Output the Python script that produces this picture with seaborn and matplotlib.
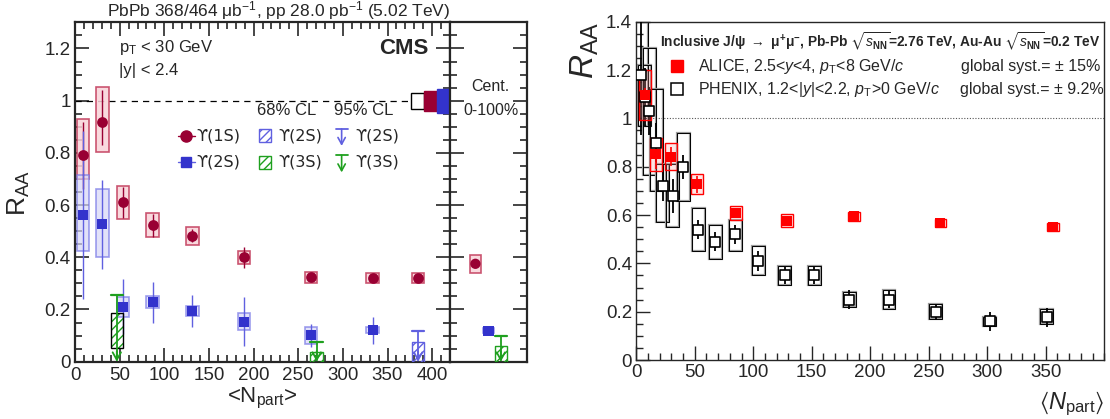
import numpy as np
import pandas as pd
import matplotlib
matplotlib.use("Agg")
import matplotlib.pyplot as plt
from matplotlib.patches import Rectangle
from matplotlib.ticker import MultipleLocator, FuncFormatter
import seaborn as sns

# ---------------- CMS Upsilon data (left panel) ----------------
npart_1s = [8.75, 30.6, 53.9, 86.9, 131.4, 189.2, 264.2, 333.3, 384.3]
raa_1s = [0.79, 0.92, 0.61, 0.524, 0.483, 0.40, 0.323, 0.32, 0.319]
stat_lo_1s = [0.13, 0.09, 0.06, 0.045, 0.025, 0.04, 0.012, 0.012, 0.012]
stat_hi_1s = [0.13, 0.12, 0.06, 0.04, 0.025, 0.04, 0.012, 0.012, 0.012]
syst_lo_1s = [0.70, 0.805, 0.545, 0.476, 0.447, 0.373, 0.302, 0.30, 0.30]
syst_hi_1s = [0.93, 1.051, 0.673, 0.568, 0.516, 0.425, 0.343, 0.34, 0.34]

npart_2s = [8.75, 30.6, 53.9, 86.9, 131.4, 189.2, 264.2, 333.3]
raa_2s = [0.562, 0.527, 0.21, 0.23, 0.194, 0.153, 0.101, 0.12]
stat_lo_2s = [0.32, 0.17, 0.105, 0.08, 0.06, 0.092, 0.045, 0.053]
stat_hi_2s = [0.32, 0.17, 0.105, 0.076, 0.06, 0.094, 0.042, 0.052]
syst_lo_2s = [0.425, 0.40, 0.173, 0.205, 0.175, 0.122, 0.068, 0.108]
syst_hi_2s = [0.715, 0.66, 0.249, 0.252, 0.213, 0.185, 0.133, 0.132]

# upper limits
ul_2s_npart = [384.3]
ul_2s_lo68 = [0.0]
ul_2s_hi68 = [0.076]
ul_2s_95 = [0.118]

ul_3s_npart = [46.8, 270.7]
ul_3s_lo68 = [0.051, 0.0]
ul_3s_hi68 = [0.187, 0.038]
ul_3s_95 = [0.257, 0.076]

# centrality-integrated (0-100%)
cent_raa_1s = 0.375
cent_syst_1s = [0.34, 0.41]
cent_raa_2s = 0.118
cent_syst_2s = [0.108, 0.128]
cent_3s_hi68 = 0.061
cent_3s_95 = 0.099

# global uncertainties at RAA = 1 (pp lumi, 1S, 2S)
glob_unc = [0.03, 0.038, 0.046]

# ---------------- ALICE / PHENIX J/psi data (right panel) ----------------
alice_npart = [356, 260, 186, 128.6, 85, 52.2, 29.7, 16.9, 7.5]
alice_raa = [0.55, 0.568, 0.594, 0.576, 0.609, 0.727, 0.841, 0.851, 1.096]
alice_stat = [0.01, 0.01, 0.01, 0.015, 0.02, 0.035, 0.04, 0.06, 0.03]
alice_syst = [0.017, 0.017, 0.017, 0.027, 0.03, 0.041, 0.055, 0.067, 0.104]

phenix_npart = [4.4, 7.3, 11.2, 17.0, 22.6, 31.0, 40.3, 53.1, 67.6, 84.7,
                104.4, 127.0, 152.0, 182.0, 216.0, 256.0, 302.0, 351.0]
phenix_raa = [1.18, 1.09, 1.03, 0.90, 0.72, 0.68, 0.80, 0.54, 0.49, 0.52,
              0.41, 0.35, 0.35, 0.25, 0.25, 0.20, 0.16, 0.177]
phenix_stat = [0.25, 0.12, 0.10, 0.08, 0.06, 0.07, 0.05, 0.04, 0.04, 0.04,
               0.04, 0.035, 0.035, 0.04, 0.035, 0.03, 0.04, 0.04]
phenix_syst_lo = [0.97, 0.97, 0.765, 0.70, 0.57, 0.55, 0.66, 0.45, 0.42, 0.45,
                  0.35, 0.31, 0.31, 0.22, 0.21, 0.17, 0.14, 0.15]
phenix_syst_hi = [1.45, 1.22, 1.29, 1.12, 0.81, 0.81, 0.94, 0.63, 0.56, 0.58,
                  0.47, 0.39, 0.39, 0.28, 0.29, 0.23, 0.18, 0.21]

# ---------------- style ----------------
sns.set_theme(style="ticks")
plt.rcParams["font.family"] = ["Liberation Sans", "DejaVu Sans"]
plt.rcParams["mathtext.fontset"] = "custom"
plt.rcParams["mathtext.rm"] = "Liberation Sans"
plt.rcParams["mathtext.it"] = "Liberation Sans:italic"
plt.rcParams["mathtext.bf"] = "Liberation Sans:bold"
plt.rcParams["mathtext.fallback"] = "stixsans"
plt.rcParams["hatch.linewidth"] = 1.0

C1S = "#990033"
C1S_BOX_E = "#c23a5a"
C1S_BOX_F = "#f9d3d9"
C2S = "#3333cc"
C2S_ERR = "#6060e0"
C2S_BOX_E = "#7575e6"
C2S_BOX_F = "#d6d6f7"
C3S = "#1fa01f"
CRED = "#ff0000"
UPS = ["DejaVu Sans"]

fmt = FuncFormatter(lambda v, p: "%g" % round(v, 3))

fig = plt.figure(figsize=(11.1, 4.19), dpi=100)
axL = fig.add_axes([0.0676, 0.1368, 0.3378, 0.8098])
axC = fig.add_axes([0.4054, 0.1368, 0.0694, 0.8098])
axR = fig.add_axes([0.5732, 0.1408, 0.4216, 0.8074])

# ================= LEFT PANEL =================
axL.set_xlim(0, 420)
axL.set_ylim(0, 1.3)
HW = 7.0

axL.axhline(1.0, color="black", lw=0.9, ls=(0, (5, 4)), zorder=1)

for x, lo, hi in zip(npart_1s, syst_lo_1s, syst_hi_1s):
    axL.add_patch(Rectangle((x - HW, lo), 2 * HW, hi - lo, facecolor=C1S_BOX_F,
                            edgecolor=C1S_BOX_E, lw=1.2, alpha=0.85, zorder=2))
for x, lo, hi in zip(npart_2s, syst_lo_2s, syst_hi_2s):
    axL.add_patch(Rectangle((x - HW, lo), 2 * HW, hi - lo, facecolor=C2S_BOX_F,
                            edgecolor=C2S_BOX_E, lw=1.2, alpha=0.7, zorder=2))

axL.vlines(npart_1s, np.array(raa_1s) - np.array(stat_lo_1s),
           np.array(raa_1s) + np.array(stat_hi_1s), color=C1S, lw=1.0, zorder=3)
axL.vlines(npart_2s, np.array(raa_2s) - np.array(stat_lo_2s),
           np.array(raa_2s) + np.array(stat_hi_2s), color=C2S_ERR, lw=1.0, zorder=3)


def upper_limit(ax, x, lo68, hi68, y95, color, edge, hw):
    ax.add_patch(Rectangle((x - hw, lo68), 2 * hw, hi68 - lo68, facecolor="none",
                           edgecolor=color, hatch="////", lw=0, zorder=3))
    ax.add_patch(Rectangle((x - hw, lo68), 2 * hw, hi68 - lo68, facecolor="none",
                           edgecolor=edge, lw=1.0, zorder=3))
    ax.plot([x, x], [y95, 0.005], color=color, lw=1.3, zorder=4)
    ax.plot([x - hw, x + hw], [y95, y95], color=color, lw=1.6, zorder=4)
    ax.annotate("", xy=(x, 0.0), xytext=(x, 0.04),
                arrowprops=dict(arrowstyle="->,head_length=0.45,head_width=0.25",
                                color=color, lw=1.3, shrinkA=0, shrinkB=0), zorder=4)


for x, lo, hi, y95 in zip(ul_2s_npart, ul_2s_lo68, ul_2s_hi68, ul_2s_95):
    upper_limit(axL, x, lo, hi, y95, C2S_ERR, C2S_ERR, HW)
edges3 = ["black", C3S]
for x, lo, hi, y95, e in zip(ul_3s_npart, ul_3s_lo68, ul_3s_hi68, ul_3s_95, edges3):
    upper_limit(axL, x, lo, hi, y95, C3S, e, HW)

df1 = pd.DataFrame({"npart": npart_1s, "raa": raa_1s})
df2 = pd.DataFrame({"npart": npart_2s, "raa": raa_2s})
sns.scatterplot(data=df1, x="npart", y="raa", ax=axL, marker="o", s=60,
                color=C1S, edgecolor=C1S, linewidth=0, zorder=6, legend=False)
sns.scatterplot(data=df2, x="npart", y="raa", ax=axL, marker="s", s=50,
                color=C2S, edgecolor=C2S, linewidth=0, zorder=6, legend=False)

glob_left = [376, 390.5, 405.5]
glob_w = 14.5
glob_face = ["white", C1S, C2S]
glob_edge = ["black", C1S, C2S]
for xl, u, fc, ec in zip(glob_left, glob_unc, glob_face, glob_edge):
    axL.add_patch(Rectangle((xl, 1 - u), glob_w, 2 * u, facecolor=fc,
                            edgecolor=ec, lw=1.0, zorder=5))

axL.set_xlabel("")
axL.set_ylabel("")
axL.xaxis.set_major_locator(MultipleLocator(50))
axL.xaxis.set_minor_locator(MultipleLocator(10))
axL.yaxis.set_major_locator(MultipleLocator(0.2))
axL.yaxis.set_minor_locator(MultipleLocator(0.05))
axL.yaxis.set_major_formatter(fmt)
axL.tick_params(which="both", direction="in", top=True, right=True, width=1.2,
                labelsize=13.5)
axL.tick_params(axis="x", pad=4)
axL.tick_params(axis="y", pad=3)
axL.tick_params(which="major", length=10)
axL.tick_params(which="minor", length=5)
for sp in axL.spines.values():
    sp.set_linewidth(1.6)

axL.text(0.118, 0.926, r"p$_{\rm T}$ < 30 GeV", transform=axL.transAxes,
         fontsize=12, va="center", ha="left")
axL.text(0.118, 0.857, "|y| < 2.4", transform=axL.transAxes,
         fontsize=12, va="center", ha="left")
axL.text(0.943, 0.923, "CMS", transform=axL.transAxes, fontsize=16,
         fontweight="bold", va="center", ha="right")
axL.text(0.564, 0.74, "68% CL", transform=axL.transAxes, fontsize=12,
         va="center", ha="center")
axL.text(0.769, 0.74, "95% CL", transform=axL.transAxes, fontsize=12,
         va="center", ha="center")

tr = axL.transAxes
r1, r2 = 0.666, 0.588
axL.plot([0.275, 0.32], [r1, r1], color=C1S, lw=1.0, transform=tr)
axL.plot([0.297], [r1], marker="o", ms=8, color=C1S, mec=C1S, transform=tr)
axL.text(0.324, r1, "ϒ(1S)", transform=tr, fontsize=11.5, va="center", family=UPS)
axL.add_patch(Rectangle((0.49, r1 - 0.019), 0.033, 0.038, transform=tr,
                        facecolor="none", edgecolor=C2S_ERR, hatch="////", lw=1.0))
axL.text(0.543, r1, "ϒ(2S)", transform=tr, fontsize=11.5, va="center", family=UPS)
axL.plot([0.275, 0.32], [r2, r2], color=C2S_ERR, lw=1.0, transform=tr)
axL.plot([0.297], [r2], marker="s", ms=7.5, color=C2S, mec=C2S, transform=tr)
axL.text(0.324, r2, "ϒ(2S)", transform=tr, fontsize=11.5, va="center", family=UPS)
axL.add_patch(Rectangle((0.49, r2 - 0.019), 0.033, 0.038, transform=tr,
                        facecolor="none", edgecolor=C3S, hatch="////", lw=1.0))
axL.text(0.543, r2, "ϒ(3S)", transform=tr, fontsize=11.5, va="center", family=UPS)
for yy, col in [(r1, C2S_ERR), (r2, C3S)]:
    axL.plot([0.695, 0.727], [yy + 0.02, yy + 0.02], color=col, lw=1.3, transform=tr)
    axL.annotate("", xy=(0.711, yy - 0.03), xytext=(0.711, yy + 0.02),
                 xycoords=tr, textcoords=tr,
                 arrowprops=dict(arrowstyle="->,head_length=0.4,head_width=0.22",
                                 color=col, lw=1.2, shrinkA=0, shrinkB=0))
axL.text(0.748, r1, "ϒ(2S)", transform=tr, fontsize=11.5, va="center", family=UPS)
axL.text(0.748, r2, "ϒ(3S)", transform=tr, fontsize=11.5, va="center", family=UPS)

# ================= CENTRALITY-INTEGRATED PANEL =================
axC.set_xlim(0, 1)
axC.set_ylim(0, 1.3)
cent_x = [0.33, 0.5, 0.66]
CHW = 0.075
axC.add_patch(Rectangle((cent_x[0] - CHW, cent_syst_1s[0]), 2 * CHW,
                        cent_syst_1s[1] - cent_syst_1s[0], facecolor=C1S_BOX_F,
                        edgecolor=C1S_BOX_E, lw=1.2, alpha=0.85, zorder=2))
axC.add_patch(Rectangle((cent_x[1] - CHW, cent_syst_2s[0]), 2 * CHW,
                        cent_syst_2s[1] - cent_syst_2s[0], facecolor=C2S_BOX_F,
                        edgecolor=C2S_BOX_E, lw=1.2, alpha=0.7, zorder=2))
upper_limit(axC, cent_x[2], 0.0, cent_3s_hi68, cent_3s_95, C3S, C3S, CHW)
dfc = pd.DataFrame({"x": cent_x[:2], "raa": [cent_raa_1s, cent_raa_2s],
                    "state": ["1S", "2S"]})
sns.scatterplot(data=dfc, x="x", y="raa", hue="state", style="state",
                markers={"1S": "o", "2S": "s"}, palette={"1S": C1S, "2S": C2S},
                s=55, linewidth=0, ax=axC, legend=False, zorder=6)
axC.set_xlabel("")
axC.set_ylabel("")
axC.set_xticks([])
axC.yaxis.set_major_locator(MultipleLocator(0.2))
axC.yaxis.set_minor_locator(MultipleLocator(0.05))
axC.tick_params(axis="y", which="both", direction="in", left=True, right=True,
                labelleft=False, width=1.2)
axC.tick_params(axis="y", which="major", length=10)
axC.tick_params(axis="y", which="minor", length=5)
for sp in axC.spines.values():
    sp.set_linewidth(1.6)
axC.text(0.53, 0.81, "Cent.", transform=axC.transAxes, fontsize=11.5,
         ha="center", va="center")
axC.text(0.53, 0.739, "0-100%", transform=axC.transAxes, fontsize=11.5,
         ha="center", va="center")

fig.text(0.251, 0.975, r"PbPb 368/464 μb$^{-1}$, pp 28.0 pb$^{-1}$ (5.02 TeV)",
         fontsize=12.5, ha="center", va="center")
fig.text(0.017, 0.54, r"R$_{\rm AA}$", fontsize=19, rotation=90,
         ha="center", va="center")
fig.text(0.2366, 0.05, r"<N$_{\rm part}$>", fontsize=16, ha="center",
         va="center")

# ================= RIGHT PANEL =================
axR.set_xlim(0, 400)
axR.set_ylim(0, 1.4)
axR.axhline(1.0, color="#555555", lw=0.8, ls=(0, (1, 1.5)), zorder=1)

PHW = 5.5
for x, lo, hi in zip(phenix_npart, phenix_syst_lo, phenix_syst_hi):
    axR.add_patch(Rectangle((x - PHW, lo), 2 * PHW, hi - lo, facecolor="none",
                            edgecolor="#9a9a9a", lw=1.6, zorder=2))
    axR.add_patch(Rectangle((x - PHW, lo), 2 * PHW, hi - lo, facecolor="none",
                            edgecolor="black", lw=0.7, zorder=2))
axR.vlines(phenix_npart, np.array(phenix_raa) - np.array(phenix_stat),
           np.array(phenix_raa) + np.array(phenix_stat), color="black", lw=1.3, zorder=3)

AHW = 5.0
for x, y, s in zip(alice_npart, alice_raa, alice_syst):
    axR.add_patch(Rectangle((x - AHW, y - s), 2 * AHW, 2 * s, facecolor=(1, 0.6, 0.6, 0.25),
                            edgecolor=CRED, lw=1.0, zorder=4))
axR.vlines(alice_npart, np.array(alice_raa) - np.array(alice_stat),
           np.array(alice_raa) + np.array(alice_stat), color=CRED, lw=1.2, zorder=4)

dfa = pd.DataFrame({"npart": alice_npart, "raa": alice_raa})
dfp = pd.DataFrame({"npart": phenix_npart, "raa": phenix_raa})
sns.scatterplot(data=dfp, x="npart", y="raa", ax=axR, marker="s", s=45,
                facecolor="white", edgecolor="black", linewidth=1.2, zorder=5,
                legend=False)
sns.scatterplot(data=dfa, x="npart", y="raa", ax=axR, marker="s", s=55,
                color=CRED, edgecolor=CRED, linewidth=0, zorder=6, legend=False)

axR.set_xlabel("")
axR.set_ylabel("")
axR.set_xticks(np.arange(0, 351, 50))
axR.xaxis.set_minor_locator(MultipleLocator(10))
axR.yaxis.set_major_locator(MultipleLocator(0.2))
axR.yaxis.set_minor_locator(MultipleLocator(0.05))
axR.yaxis.set_major_formatter(fmt)
axR.tick_params(which="both", direction="in", top=False, right=False, width=1.0,
                labelsize=13.5, pad=3)
axR.tick_params(which="major", length=10)
axR.tick_params(which="minor", length=5)
for sp in axR.spines.values():
    sp.set_linewidth(1.0)

trR = axR.transAxes
axR.text(0.05, 0.94,
         r"Inclusive J/ψ $\rightarrow$ μ$^{\mathbf{+}}$μ$^{\mathbf{-}}$, Pb-Pb "
         r"$\sqrt{s_{\mathbf{NN}}}$=2.76 TeV, Au-Au $\sqrt{s_{\mathbf{NN}}}$=0.2 TeV",
         transform=trR, fontsize=9.9, fontweight="bold", va="center", ha="left")
axR.plot([0.088], [0.869], marker="s", ms=8, color=CRED, transform=trR)
axR.text(0.133, 0.869, r"ALICE, 2.5<$y$<4, $p_{\rm T}$<8 GeV/$c$", transform=trR,
         fontsize=11.5, va="center")
axR.plot([0.088], [0.80], marker="s", ms=8, mfc="white", mec="black", mew=1.1,
         transform=trR)
axR.text(0.133, 0.80, r"PHENIX, 1.2<|$y$|<2.2, $p_{\rm T}$>0 GeV/$c$", transform=trR,
         fontsize=11.5, va="center")
axR.text(0.694, 0.869, "global syst.= ± 15%", transform=trR, fontsize=11.5,
         va="center")
axR.text(0.692, 0.80, "global syst.= ± 9.2%", transform=trR, fontsize=11.5,
         va="center")

axR.text(-0.11, 1.0, r"$R_{\rm AA}$", transform=trR, fontsize=24, rotation=90,
         ha="center", va="top")
axR.text(1.0, -0.13, r"$\langle N_{\rm part}\rangle$", transform=trR, fontsize=17,
         ha="right", va="center")

fig.savefig("out.png", dpi=100)
